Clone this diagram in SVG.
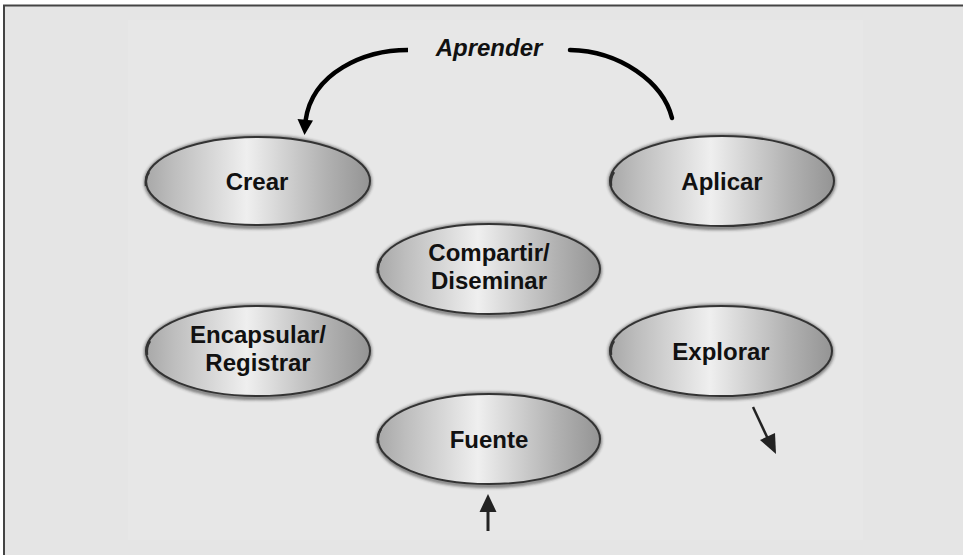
<svg xmlns="http://www.w3.org/2000/svg" width="963" height="555" viewBox="0 0 963 555">
<defs>
<linearGradient id="g" x1="0" y1="0" x2="1" y2="0">
<stop offset="0" stop-color="#a8a8a8"/>
<stop offset="0.12" stop-color="#bdbdbd"/>
<stop offset="0.45" stop-color="#efefef"/>
<stop offset="0.8" stop-color="#b2b2b2"/>
<stop offset="1" stop-color="#949494"/>
</linearGradient>
<filter id="blur" x="-10%" y="-20%" width="120%" height="140%">
<feGaussianBlur stdDeviation="1.6"/>
</filter>
</defs>
<style>
.sh{fill:none;stroke:#222;stroke-width:4;opacity:0.55;filter:url(#blur)}
.el{fill:url(#g);stroke:#333;stroke-width:2}
.nt{fill:none;stroke:#333;stroke-width:2.5}
.lb{font-family:"Liberation Sans",Arial,sans-serif;font-weight:bold;font-size:24px;fill:#111;text-anchor:middle}
</style>
<rect x="0" y="0" width="963" height="555" fill="#ffffff"/>
<rect x="4" y="5" width="959" height="550" fill="#e5e5e5"/>
<rect x="128" y="20" width="735" height="520" fill="#e7e7e7"/>
<path d="M4,555 L4,5.5 L963,5.5" fill="none" stroke="#444" stroke-width="2"/>

<g id="connectors">
<path d="M408,50 C365,50 312,72 305.5,121" fill="none" stroke="#000" stroke-width="4.5"/>
<polygon points="297.5,119 313,120.5 304.5,135" fill="#000"/>
<path d="M570,50 C620,51 663,82 672,118" fill="none" stroke="#000" stroke-width="4.5" stroke-linecap="round"/>
<path d="M753,407 L768,439" fill="none" stroke="#222" stroke-width="2.5"/>
<polygon points="775,433 760,440 776,454" fill="#222"/>
<path d="M488,531 L488,510" fill="none" stroke="#222" stroke-width="3"/>
<polygon points="479.5,512 496.5,512 488,494" fill="#222"/>
</g>

<g id="aprender">
<text x="489" y="56" font-family="'Liberation Sans',Arial,sans-serif" font-weight="bold" font-style="italic" font-size="24" fill="#111" text-anchor="middle">Aprender</text>
</g>

<g id="crear">
<ellipse class="sh" cx="258" cy="182" rx="112" ry="45"/>
<ellipse class="el" cx="258" cy="181" rx="112" ry="44"/>
<path class="nt" d="M149,172 Q145,178 146,186"/>
<text class="lb" x="257" y="190">Crear</text>
</g>

<g id="aplicar">
<ellipse class="sh" cx="722" cy="182" rx="112" ry="46"/>
<ellipse class="el" cx="722" cy="181" rx="112" ry="45"/>
<path class="nt" d="M614,172 Q610,178 611,186"/>
<text class="lb" x="722" y="190">Aplicar</text>
</g>

<g id="compartir">
<ellipse class="sh" cx="489" cy="270" rx="111" ry="46"/>
<ellipse class="el" cx="489" cy="269" rx="111" ry="45"/>
<path class="nt" d="M381,259 Q377,265 378,273"/>
<text class="lb" x="489" y="261">Compartir/</text>
<text class="lb" x="489" y="289">Diseminar</text>
</g>

<g id="encapsular">
<ellipse class="sh" cx="258" cy="352" rx="112" ry="46"/>
<ellipse class="el" cx="258" cy="351" rx="112" ry="45"/>
<path class="nt" d="M150,341 Q146,347 147,355"/>
<text class="lb" x="258" y="343">Encapsular/</text>
<text class="lb" x="258" y="371">Registrar</text>
</g>

<g id="explorar">
<ellipse class="sh" cx="721" cy="352" rx="111" ry="46"/>
<ellipse class="el" cx="721" cy="351" rx="111" ry="45"/>
<path class="nt" d="M614,341 Q610,347 611,355"/>
<text class="lb" x="721" y="360">Explorar</text>
</g>

<g id="fuente">
<ellipse class="sh" cx="489" cy="440" rx="111" ry="46"/>
<ellipse class="el" cx="489" cy="439" rx="111" ry="45"/>
<path class="nt" d="M381,429 Q377,435 378,443"/>
<text class="lb" x="489" y="448">Fuente</text>
</g>
</svg>
